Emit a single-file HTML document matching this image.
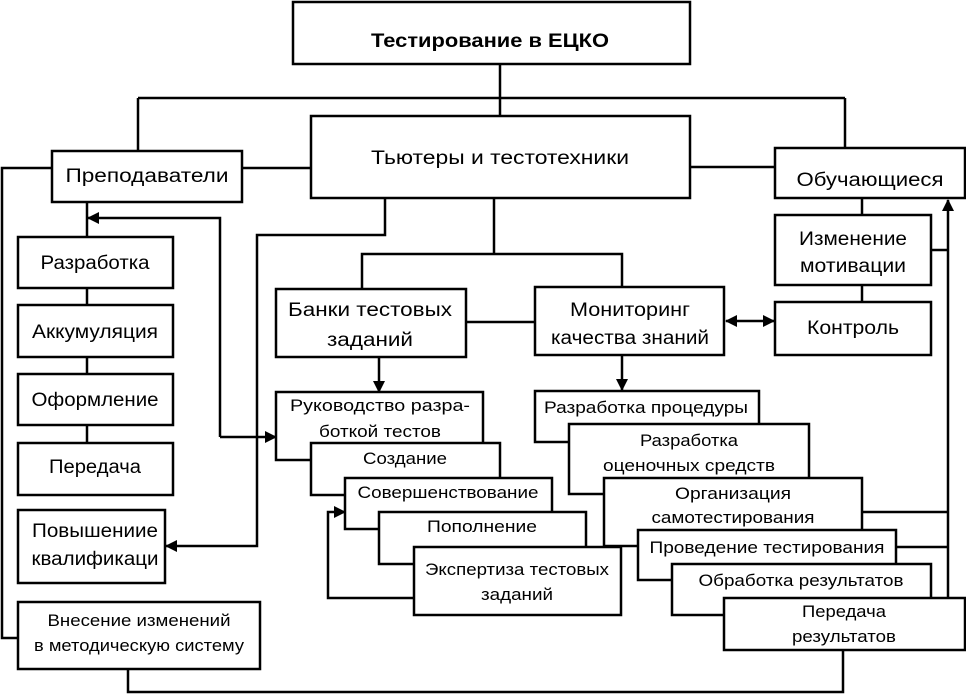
<!DOCTYPE html>
<html><head><meta charset="utf-8"><style>
html,body{margin:0;padding:0;background:#fff;}
svg{display:block;}
text{font-family:"Liberation Sans",sans-serif;fill:#000;text-anchor:middle;}
</style></head><body>
<svg width="966" height="694" viewBox="0 0 966 694" xmlns="http://www.w3.org/2000/svg">
<defs>
<marker id="as" markerWidth="12" markerHeight="12" refX="1" refY="6" orient="auto" markerUnits="userSpaceOnUse"><path d="M12,0 L0,6 L12,12 z" fill="#000"/></marker>
<marker id="big" markerWidth="12" markerHeight="12" refX="11" refY="6" orient="auto" markerUnits="userSpaceOnUse"><path d="M0,0 L12,6 L0,12 z" fill="#000"/></marker>
</defs>
<g stroke="#000" stroke-width="2.5" fill="none">
<line x1="500" y1="64" x2="500" y2="117"/>
<line x1="138" y1="98" x2="845" y2="98"/>
<line x1="138" y1="98" x2="138" y2="151"/>
<line x1="845" y1="98" x2="845" y2="150"/>
<line x1="242" y1="168" x2="311" y2="168"/>
<line x1="690" y1="167" x2="775" y2="167"/>
<polyline points="52,168 2,168 2,638 18,638"/>
<line x1="87" y1="202" x2="87" y2="237"/>
<line x1="87" y1="288" x2="87" y2="305"/>
<line x1="87" y1="357" x2="87" y2="374"/>
<line x1="87" y1="425" x2="87" y2="443"/>
<polyline points="220,437 220,218 88,218" marker-end="url(#big)"/>
<line x1="220" y1="437" x2="276" y2="437" marker-end="url(#big)"/>
<polyline points="385,198 385,235 257,235 257,546 166,546" marker-end="url(#big)"/>
<polyline points="128,669 128,692 843,692 843,650"/>
<line x1="494" y1="198" x2="494" y2="254"/>
<polyline points="362,288 362,254 622,254 622,288"/>
<line x1="466" y1="322" x2="535" y2="322"/>
<line x1="379" y1="357" x2="379" y2="392" marker-end="url(#big)"/>
<line x1="622" y1="355" x2="622" y2="390" marker-end="url(#big)"/>
<line x1="726" y1="321" x2="774" y2="321" marker-start="url(#as)" marker-end="url(#big)"/>
<line x1="862" y1="198" x2="862" y2="215"/>
<line x1="862" y1="285" x2="862" y2="302"/>
<line x1="948" y1="598" x2="948" y2="200" marker-end="url(#big)"/>
<line x1="931" y1="250" x2="948" y2="250"/>
<line x1="862" y1="512" x2="948" y2="512"/>
<line x1="896" y1="547" x2="948" y2="547"/>
<polyline points="414,598 328,598 328,512 345,512" marker-end="url(#big)"/>
</g>
<g stroke="#000" stroke-width="2.5" fill="#fff">
<rect x="293" y="2" width="397" height="62"/>
<rect x="311" y="116" width="379" height="82"/>
<rect x="52" y="151" width="190" height="51"/>
<rect x="775" y="148" width="190" height="50"/>
<rect x="18" y="237" width="155" height="51"/>
<rect x="18" y="305" width="155" height="52"/>
<rect x="18" y="374" width="155" height="51"/>
<rect x="18" y="443" width="155" height="52"/>
<rect x="18" y="510" width="147" height="73"/>
<rect x="18" y="602" width="242" height="67"/>
<rect x="276" y="289" width="190" height="68"/>
<rect x="535" y="287" width="189" height="68"/>
<rect x="775" y="215" width="156" height="70"/>
<rect x="775" y="302" width="156" height="53"/>
<rect x="276" y="392" width="207" height="68"/>
<rect x="311" y="443" width="189" height="52"/>
<rect x="345" y="478" width="207" height="51"/>
<rect x="379" y="512" width="207" height="52"/>
<rect x="414" y="547" width="207" height="68"/>
<rect x="535" y="391" width="224" height="51"/>
<rect x="569" y="424" width="240" height="70"/>
<rect x="604" y="478" width="258" height="68"/>
<rect x="638" y="530" width="258" height="50"/>
<rect x="672" y="564" width="259" height="51"/>
<rect x="724" y="598" width="241" height="52"/>
</g>
<g font-size="19">
<text x="490" y="47" font-weight="bold" textLength="238" lengthAdjust="spacingAndGlyphs">Тестирование в ЕЦКО</text>
<text x="500" y="164" textLength="258" lengthAdjust="spacingAndGlyphs">Тьютеры и тестотехники</text>
<text x="147" y="182" textLength="163" lengthAdjust="spacingAndGlyphs">Преподаватели</text>
<text x="870" y="186" textLength="147" lengthAdjust="spacingAndGlyphs">Обучающиеся</text>
<text x="95" y="269" textLength="109" lengthAdjust="spacingAndGlyphs">Разработка</text>
<text x="95" y="338" textLength="126" lengthAdjust="spacingAndGlyphs">Аккумуляция</text>
<text x="95" y="406" textLength="127" lengthAdjust="spacingAndGlyphs">Оформление</text>
<text x="95" y="473" textLength="92" lengthAdjust="spacingAndGlyphs">Передача</text>
<text x="95" y="537" textLength="126" lengthAdjust="spacingAndGlyphs">Повышениие</text>
<text x="95" y="565" textLength="127" lengthAdjust="spacingAndGlyphs">квалификаци</text>
<text x="370" y="316" textLength="164" lengthAdjust="spacingAndGlyphs">Банки тестовых</text>
<text x="370" y="346" textLength="86" lengthAdjust="spacingAndGlyphs">заданий</text>
<text x="630" y="316" textLength="120" lengthAdjust="spacingAndGlyphs">Мониторинг</text>
<text x="630" y="344" textLength="158" lengthAdjust="spacingAndGlyphs">качества знаний</text>
<text x="853" y="245" textLength="108" lengthAdjust="spacingAndGlyphs">Изменение</text>
<text x="853" y="272" textLength="106" lengthAdjust="spacingAndGlyphs">мотивации</text>
<text x="853" y="334" textLength="92" lengthAdjust="spacingAndGlyphs">Контроль</text>
</g>
<g font-size="17">
<text x="139" y="626" textLength="183" lengthAdjust="spacingAndGlyphs">Внесение изменений</text>
<text x="139" y="651" textLength="210" lengthAdjust="spacingAndGlyphs">в методическую систему</text>
<text x="380" y="411" textLength="180" lengthAdjust="spacingAndGlyphs">Руководство  разра-</text>
<text x="380" y="437" textLength="122" lengthAdjust="spacingAndGlyphs">боткой тестов</text>
<text x="405" y="464" textLength="84" lengthAdjust="spacingAndGlyphs">Создание</text>
<text x="448" y="498" textLength="181" lengthAdjust="spacingAndGlyphs">Совершенствование</text>
<text x="482" y="532" textLength="110" lengthAdjust="spacingAndGlyphs">Пополнение</text>
<text x="517" y="575" textLength="184" lengthAdjust="spacingAndGlyphs">Экспертиза тестовых</text>
<text x="517" y="600" textLength="72" lengthAdjust="spacingAndGlyphs">заданий</text>
<text x="646" y="413" textLength="204" lengthAdjust="spacingAndGlyphs">Разработка процедуры</text>
<text x="689" y="446" textLength="98" lengthAdjust="spacingAndGlyphs">Разработка</text>
<text x="689" y="471" textLength="172" lengthAdjust="spacingAndGlyphs">оценочных средств</text>
<text x="733" y="499" textLength="116" lengthAdjust="spacingAndGlyphs">Организация</text>
<text x="733" y="523" textLength="163" lengthAdjust="spacingAndGlyphs">самотестирования</text>
<text x="767" y="553" textLength="235" lengthAdjust="spacingAndGlyphs">Проведение тестирования</text>
<text x="801" y="586" textLength="205" lengthAdjust="spacingAndGlyphs">Обработка результатов</text>
<text x="844" y="617" textLength="84" lengthAdjust="spacingAndGlyphs">Передача</text>
<text x="844" y="642" textLength="104" lengthAdjust="spacingAndGlyphs">результатов</text>
</g>
</svg>
</body></html>
